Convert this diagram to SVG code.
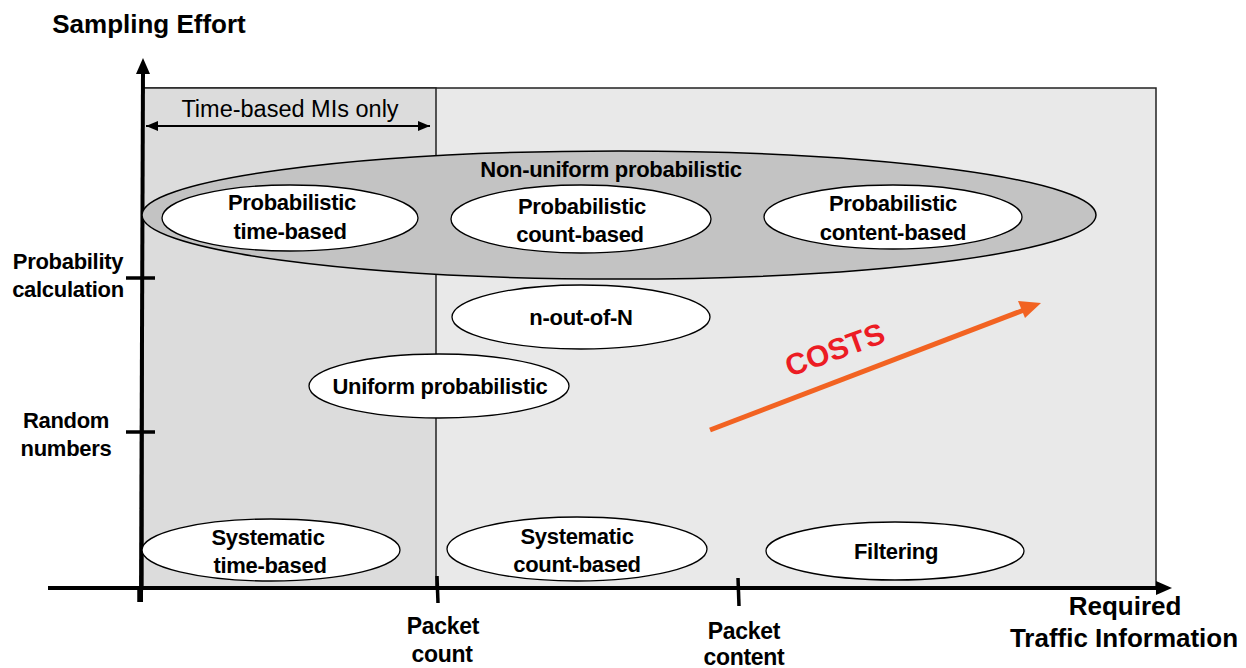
<svg xmlns="http://www.w3.org/2000/svg" width="1246" height="668" viewBox="0 0 1246 668">
  <defs>
    <style>
      .lbl { font-family: "Liberation Sans", Arial, sans-serif; font-weight: bold; font-size: 22px; fill: #000; text-anchor: middle; letter-spacing: -0.3px; }
      .ax { font-family: "Liberation Sans", Arial, sans-serif; font-weight: bold; font-size: 22px; fill: #000; text-anchor: middle; letter-spacing: -0.3px; }
      .ax-big { font-size: 26px; letter-spacing: 0px; }
      .ax-mid { font-size: 23px; }
      .node { fill: #ffffff; stroke: #000; stroke-width: 1.3; }
      .axis { stroke: #000; stroke-width: 4; fill: none; }
      .tick { stroke: #000; stroke-width: 3.5; }
    </style>
    <marker id="dblL" viewBox="0 0 12 10" refX="0" refY="5" markerWidth="12" markerHeight="10" orient="auto" markerUnits="userSpaceOnUse">
      <path d="M12,0 L0,5 L12,10 z" fill="#000"/>
    </marker>
    <marker id="dblR" viewBox="0 0 12 10" refX="12" refY="5" markerWidth="12" markerHeight="10" orient="auto" markerUnits="userSpaceOnUse">
      <path d="M0,0 L12,5 L0,10 z" fill="#000"/>
    </marker>
  </defs>

  <!-- plot area backgrounds -->
  <g id="regions">
    <rect x="143" y="88" width="1013" height="500" fill="#e9e9e9" stroke="#222" stroke-width="1.5"/>
    <rect x="143" y="88" width="293" height="500" fill="#dcdcdc" stroke="#222" stroke-width="1.5"/>
    <text x="290" y="117" font-family="'Liberation Sans', Arial, sans-serif" font-size="23.5" text-anchor="middle" fill="#000">Time-based MIs only</text>
    <line x1="146" y1="126" x2="430" y2="126" stroke="#000" stroke-width="2" marker-start="url(#dblL)" marker-end="url(#dblR)"/>
  </g>

  <!-- axes -->
  <g id="axes">
    <line class="axis" x1="141" y1="602" x2="143" y2="70"/>
    <path d="M143,58 L136,74 L150,74 z" fill="#000"/>
    <line class="axis" x1="48" y1="588" x2="1160" y2="588"/>
    <path d="M1172,588 L1156,581 L1156,595 z" fill="#000"/>
    <line class="tick" x1="139" y1="588" x2="139" y2="602"/>
    <line class="tick" x1="437" y1="576" x2="438" y2="603"/>
    <line class="tick" x1="738" y1="578" x2="739" y2="606"/>
    <line class="tick" x1="126" y1="278" x2="155" y2="278"/>
    <line class="tick" x1="126" y1="432" x2="155" y2="432"/>
    <text class="ax ax-big" x="149" y="33">Sampling Effort</text>
    <text class="ax" x="68" y="269">Probability</text>
    <text class="ax" x="68" y="297">calculation</text>
    <text class="ax" x="66" y="428">Random</text>
    <text class="ax" x="66" y="456">numbers</text>
    <text class="ax ax-mid" x="443" y="634">Packet</text>
    <text class="ax ax-mid" x="442" y="662">count</text>
    <text class="ax ax-mid" x="744" y="639">Packet</text>
    <text class="ax ax-mid" x="744" y="665">content</text>
    <text class="ax ax-big" x="1125" y="615">Required</text>
    <text class="ax ax-big" x="1124" y="647">Traffic Information</text>
  </g>

  <!-- non-uniform probabilistic group -->
  <g id="non-uniform">
    <ellipse cx="619" cy="215" rx="477" ry="64" fill="#c3c3c3" stroke="#000" stroke-width="1.5"/>
    <text class="lbl" x="611" y="177">Non-uniform probabilistic</text>
  </g>

  <g id="prob-time">
    <ellipse class="node" cx="290" cy="218" rx="128" ry="33"/>
    <text class="lbl" x="292" y="210">Probabilistic</text>
    <text class="lbl" x="290" y="239">time-based</text>
  </g>
  <g id="prob-count">
    <ellipse class="node" cx="581" cy="219" rx="130" ry="34"/>
    <text class="lbl" x="582" y="214">Probabilistic</text>
    <text class="lbl" x="580" y="242">count-based</text>
  </g>
  <g id="prob-content">
    <ellipse class="node" cx="893" cy="217" rx="129" ry="32"/>
    <text class="lbl" x="893" y="211">Probabilistic</text>
    <text class="lbl" x="893" y="240">content-based</text>
  </g>
  <g id="n-out-of-N">
    <ellipse class="node" cx="581" cy="317" rx="129" ry="32"/>
    <text class="lbl" x="581" y="325">n-out-of-N</text>
  </g>
  <g id="uniform">
    <ellipse class="node" cx="439" cy="386" rx="130" ry="32"/>
    <text class="lbl" x="440" y="394">Uniform probabilistic</text>
  </g>
  <g id="sys-time">
    <ellipse class="node" cx="271" cy="550" rx="129" ry="31"/>
    <text class="lbl" x="268" y="545">Systematic</text>
    <text class="lbl" x="270" y="573">time-based</text>
  </g>
  <g id="sys-count">
    <ellipse class="node" cx="577" cy="549" rx="130" ry="32"/>
    <text class="lbl" x="577" y="544">Systematic</text>
    <text class="lbl" x="577" y="572">count-based</text>
  </g>
  <g id="filtering">
    <ellipse class="node" cx="895" cy="551" rx="129" ry="29"/>
    <text class="lbl" x="896" y="559">Filtering</text>
  </g>

  <!-- cost trend -->
  <g id="connectors">
    <line x1="710" y1="430" x2="1024" y2="310" stroke="#f26322" stroke-width="5"/>
    <path d="M1041,303 L1018,301 L1025,318 z" fill="#f26322"/>
    <text x="835" y="360" transform="rotate(-20 835 350)" font-family="'Liberation Sans', Arial, sans-serif" font-weight="bold" font-size="30" fill="#ec1c24" text-anchor="middle">COSTS</text>
  </g>
</svg>
